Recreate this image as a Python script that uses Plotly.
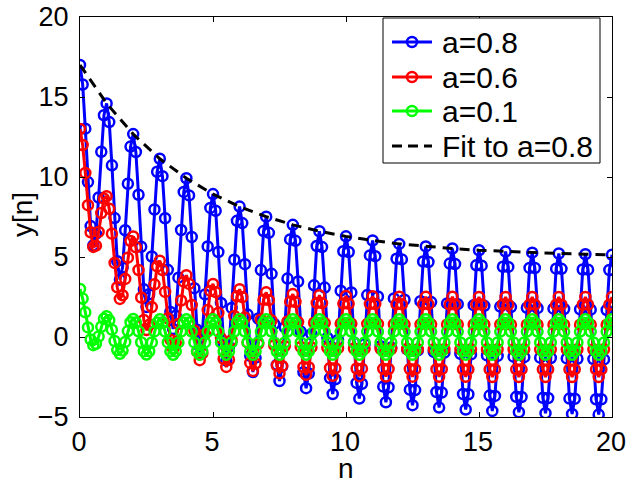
import numpy as np
import plotly.graph_objects as go

# sample index axis (0 .. 20 in steps of 0.1)
n = np.round(np.linspace(0, 20, 201), 1)

# values, one period (10 samples) per row
y_a08 = [
    17.00, 15.78, 13.02, 9.68, 6.93, 5.73, 6.45, 8.72, 11.58, 13.86,
    14.60, 13.43, 10.73, 7.43, 4.74, 3.59, 4.35, 6.67, 9.58, 11.90,
    12.68, 11.56, 8.89, 5.64, 2.98, 1.87, 2.67, 5.03, 7.97, 10.33,
    11.14, 10.05, 7.42, 4.20, 1.57, 0.50, 1.33, 3.71, 6.69, 9.07,
    9.92, 8.85, 6.25, 3.05, 0.45, -0.60, 0.25, 2.66, 5.66, 8.07,
    8.93, 7.89, 5.31, 2.13, -0.45, -1.48, -0.61, 1.82, 4.83, 7.26,
    8.15, 7.12, 4.55, 1.40, -1.17, -2.19, -1.29, 1.15, 4.18, 6.62,
    7.52, 6.51, 3.95, 0.81, -1.74, -2.75, -1.84, 0.61, 3.65, 6.10,
    7.01, 6.01, 3.47, 0.34, -2.20, -3.20, -2.28, 0.18, 3.23, 5.69,
    6.61, 5.62, 3.09, -0.04, -2.57, -3.56, -2.64, -0.17, 2.89, 5.36,
    6.29, 5.31, 2.78, -0.34, -2.87, -3.85, -2.92, -0.44, 2.62, 5.10,
    6.03, 5.05, 2.53, -0.58, -3.10, -4.08, -3.14, -0.66, 2.41, 4.89,
    5.82, 4.85, 2.33, -0.77, -3.29, -4.26, -3.32, -0.84, 2.24, 4.72,
    5.66, 4.69, 2.18, -0.93, -3.44, -4.41, -3.47, -0.98, 2.10, 4.59,
    5.53, 4.56, 2.05, -1.05, -3.56, -4.53, -3.58, -1.09, 1.99, 4.48,
    5.42, 4.46, 1.95, -1.15, -3.66, -4.62, -3.68, -1.18, 1.90, 4.39,
    5.34, 4.38, 1.87, -1.23, -3.74, -4.70, -3.75, -1.26, 1.83, 4.32,
    5.27, 4.31, 1.80, -1.29, -3.80, -4.76, -3.81, -1.31, 1.77, 4.27,
    5.22, 4.26, 1.75, -1.34, -3.85, -4.81, -3.86, -1.36, 1.73, 4.22,
    5.17, 4.21, 1.71, -1.38, -3.89, -4.85, -3.89, -1.40, 1.69, 4.19,
    5.14,
]

y_a06 = [
    13.00, 12.00, 10.25, 8.24, 6.54, 5.63, 5.71, 6.57, 7.75, 8.65,
    8.80, 8.01, 6.46, 4.63, 3.11, 2.38, 2.61, 3.63, 4.96, 6.00,
    6.28, 5.61, 4.19, 2.47, 1.06, 0.43, 0.76, 1.87, 3.29, 4.41,
    4.77, 4.18, 2.82, 1.17, -0.17, -0.74, -0.35, 0.81, 2.28, 3.46,
    3.86, 3.32, 2.00, 0.40, -0.91, -1.45, -1.02, 0.18, 1.68, 2.88,
    3.32, 2.80, 1.51, -0.07, -1.36, -1.87, -1.42, -0.20, 1.32, 2.54,
    2.99, 2.49, 1.22, -0.35, -1.62, -2.12, -1.66, -0.43, 1.10, 2.33,
    2.79, 2.30, 1.04, -0.52, -1.78, -2.27, -1.81, -0.57, 0.97, 2.21,
    2.68, 2.19, 0.93, -0.62, -1.88, -2.36, -1.89, -0.65, 0.89, 2.13,
    2.61, 2.12, 0.87, -0.68, -1.94, -2.42, -1.95, -0.70, 0.84, 2.09,
    2.56, 2.08, 0.83, -0.72, -1.97, -2.45, -1.98, -0.73, 0.82, 2.06,
    2.54, 2.06, 0.81, -0.74, -1.99, -2.47, -2.00, -0.75, 0.80, 2.05,
    2.52, 2.04, 0.79, -0.75, -2.00, -2.48, -2.01, -0.76, 0.79, 2.04,
    2.51, 2.04, 0.79, -0.76, -2.01, -2.49, -2.01, -0.76, 0.78, 2.03,
    2.51, 2.03, 0.78, -0.77, -2.02, -2.49, -2.02, -0.77, 0.78, 2.03,
    2.50, 2.03, 0.78, -0.77, -2.02, -2.50, -2.02, -0.77, 0.78, 2.03,
    2.50, 2.02, 0.77, -0.77, -2.02, -2.50, -2.02, -0.77, 0.77, 2.02,
    2.50, 2.02, 0.77, -0.77, -2.02, -2.50, -2.02, -0.77, 0.77, 2.02,
    2.50, 2.02, 0.77, -0.77, -2.02, -2.50, -2.02, -0.77, 0.77, 2.02,
    2.50, 2.02, 0.77, -0.77, -2.02, -2.50, -2.02, -0.77, 0.77, 2.02,
    2.50,
]

y_a01 = [
    3.00, 2.40, 1.54, 0.60, -0.15, -0.51, -0.42, 0.03, 0.64, 1.14,
    1.30, 1.05, 0.46, -0.25, -0.82, -1.05, -0.85, -0.31, 0.37, 0.92,
    1.13, 0.91, 0.36, -0.33, -0.89, -1.10, -0.89, -0.34, 0.35, 0.90,
    1.11, 0.90, 0.34, -0.34, -0.90, -1.11, -0.90, -0.34, 0.34, 0.90,
    1.11, 0.90, 0.34, -0.34, -0.90, -1.11, -0.90, -0.34, 0.34, 0.90,
    1.11, 0.90, 0.34, -0.34, -0.90, -1.11, -0.90, -0.34, 0.34, 0.90,
    1.11, 0.90, 0.34, -0.34, -0.90, -1.11, -0.90, -0.34, 0.34, 0.90,
    1.11, 0.90, 0.34, -0.34, -0.90, -1.11, -0.90, -0.34, 0.34, 0.90,
    1.11, 0.90, 0.34, -0.34, -0.90, -1.11, -0.90, -0.34, 0.34, 0.90,
    1.11, 0.90, 0.34, -0.34, -0.90, -1.11, -0.90, -0.34, 0.34, 0.90,
    1.11, 0.90, 0.34, -0.34, -0.90, -1.11, -0.90, -0.34, 0.34, 0.90,
    1.11, 0.90, 0.34, -0.34, -0.90, -1.11, -0.90, -0.34, 0.34, 0.90,
    1.11, 0.90, 0.34, -0.34, -0.90, -1.11, -0.90, -0.34, 0.34, 0.90,
    1.11, 0.90, 0.34, -0.34, -0.90, -1.11, -0.90, -0.34, 0.34, 0.90,
    1.11, 0.90, 0.34, -0.34, -0.90, -1.11, -0.90, -0.34, 0.34, 0.90,
    1.11, 0.90, 0.34, -0.34, -0.90, -1.11, -0.90, -0.34, 0.34, 0.90,
    1.11, 0.90, 0.34, -0.34, -0.90, -1.11, -0.90, -0.34, 0.34, 0.90,
    1.11, 0.90, 0.34, -0.34, -0.90, -1.11, -0.90, -0.34, 0.34, 0.90,
    1.11, 0.90, 0.34, -0.34, -0.90, -1.11, -0.90, -0.34, 0.34, 0.90,
    1.11, 0.90, 0.34, -0.34, -0.90, -1.11, -0.90, -0.34, 0.34, 0.90,
    1.11,
]

fit_n = [0, 1, 2, 3, 4, 5, 6, 7, 8, 9, 10, 11, 12, 13, 14, 15, 16, 17, 18, 19, 20]
fit_y = [17.00, 14.60, 12.68, 11.14, 9.92, 8.93, 8.15, 7.52, 7.01, 6.61, 6.29,
         6.03, 5.82, 5.66, 5.53, 5.42, 5.34, 5.27, 5.22, 5.17, 5.14]

series_names = ["a=0.8", "a=0.6", "a=0.1"]
series_values = [y_a08, y_a06, y_a01]
series_colors = ["rgb(0,0,255)", "rgb(255,0,0)", "rgb(0,255,0)"]
fit_name = "Fit to a=0.8"

FONT = "Liberation Sans, Arial, Helvetica, sans-serif"
FS_TICK = 27
FS_TITLE = 28
FS_LEG = 30

W, H = 626, 485
L, R, T, B = 80, 14, 17, 68          # plot area 80..612 x 17..417
PW, PH = W - L - R, H - T - B


def px(xp):
    return (xp - L) / PW


def py(yp):
    return (H - B - yp) / PH


fig = go.Figure()
for name, ys, col in zip(series_names, series_values, series_colors):
    fig.add_trace(go.Scatter(
        x=n, y=ys, name=name, mode="lines+markers",
        line=dict(color=col, width=3),
        marker=dict(symbol="circle-open", size=10, color=col,
                    line=dict(width=2.5, color=col)),
    ))
fig.add_trace(go.Scatter(
    x=fit_n, y=fit_y, name=fit_name, mode="lines",
    line=dict(color="black", width=3, dash="10px,7px"),
))

axis_common = dict(
    showline=True, linecolor="black", linewidth=1, mirror="allticks",
    ticks="inside", ticklen=5, tickwidth=1, tickcolor="black",
    showgrid=False, zeroline=False, automargin=False,
    ticklabeloverflow="allow",
    tickfont=dict(family=FONT, size=FS_TICK, color="black"),
)

# ---- legend drawn as shapes + text (MATLAB-style box) ----
shapes = [dict(type="rect", xref="paper", yref="paper", layer="above",
               x0=px(383), x1=px(600), y0=py(163), y1=py(18),
               fillcolor="white", line=dict(color="black", width=1))]
annotations = []
leg_y = [42, 77, 111, 146]
leg_names = series_names + [fit_name]
leg_cols = series_colors + ["black"]
for i, (nm, col, yy) in enumerate(zip(leg_names, leg_cols, leg_y)):
    dash = "solid" if i < 3 else "10px,6px"
    shapes.append(dict(type="line", xref="paper", yref="paper", layer="above",
                       x0=px(392), x1=px(432), y0=py(yy), y1=py(yy),
                       line=dict(color=col, width=3, dash=dash)))
    if i < 3:
        shapes.append(dict(type="circle", xref="paper", yref="paper", layer="above",
                           xsizemode="pixel", ysizemode="pixel",
                           xanchor=px(412), yanchor=py(yy),
                           x0=-5, x1=5, y0=-5, y1=5,
                           line=dict(color=col, width=2.5)))
    annotations.append(dict(xref="paper", yref="paper", x=px(440), y=py(yy),
                            xanchor="left", yanchor="middle", showarrow=False,
                            text=nm, font=dict(family=FONT, size=FS_LEG, color="black")))

# axis titles
annotations.append(dict(xref="paper", yref="paper", x=px(346), y=py(469),
                        xanchor="center", yanchor="middle", showarrow=False,
                        text="n", font=dict(family=FONT, size=FS_TITLE, color="black")))
annotations.append(dict(xref="paper", yref="paper", x=px(22), y=py(215),
                        xanchor="center", yanchor="middle", showarrow=False,
                        textangle=-90,
                        text="y[n]", font=dict(family=FONT, size=FS_TITLE, color="black")))

fig.update_layout(
    width=W, height=H,
    margin=dict(l=L, r=R, t=T, b=B),
    paper_bgcolor="white", plot_bgcolor="white",
    font=dict(family=FONT, size=FS_TICK, color="black"),
    xaxis=dict(range=[0, 20], tickvals=[0, 5, 10, 15, 20], ticklabelstandoff=1,
               ticklabelshift=-1, **axis_common),
    yaxis=dict(range=[-5, 20], tickvals=[-5, 0, 5, 10, 15, 20], ticklabelstandoff=5,
               **axis_common),
    showlegend=False,
    shapes=shapes,
    annotations=annotations,
)

fig.write_html("out.html", config={"displayModeBar": False},
               post_script="document.body.style.margin='0';")
